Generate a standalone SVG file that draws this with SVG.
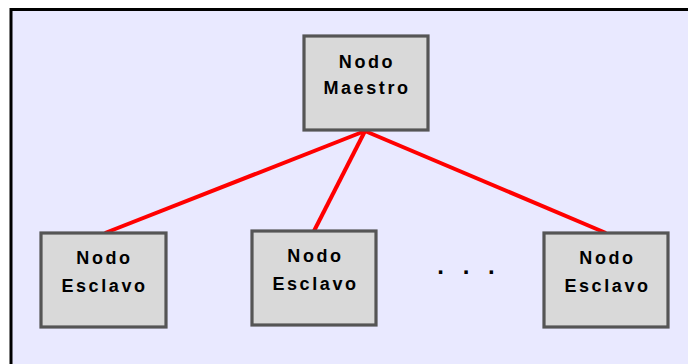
<svg xmlns="http://www.w3.org/2000/svg" width="688" height="364" viewBox="0 0 688 364">
<style>
.node rect{fill:#d9d9d9;stroke:#555555;stroke-width:3.2}
.lbl{font-family:"Liberation Sans",Arial,sans-serif;font-weight:bold;font-size:18px;letter-spacing:2.6px;fill:#000;text-anchor:middle}
.conn line{stroke:#ff0000;stroke-width:4}
</style>
<rect x="11" y="9.5" width="700" height="370" fill="#e9e9ff" stroke="#000" stroke-width="3"/>
<g class="conn" id="connectors">
<line x1="365" y1="131" x2="105" y2="233"/>
<line x1="365" y1="131" x2="314" y2="231"/>
<line x1="365" y1="131" x2="606" y2="233"/>
</g>
<g class="node" id="maestro">
<rect x="304" y="36" width="124" height="94"/>
<text class="lbl" x="367" y="68">Nodo</text>
<text class="lbl" x="367" y="94">Maestro</text>
</g>
<g class="node" id="esclavo1">
<rect x="41" y="233" width="125" height="94"/>
<text class="lbl" x="104.5" y="264">Nodo</text>
<text class="lbl" x="104.5" y="292">Esclavo</text>
</g>
<g class="node" id="esclavo2">
<rect x="252" y="231" width="124" height="94"/>
<text class="lbl" x="315.5" y="262">Nodo</text>
<text class="lbl" x="315.5" y="290">Esclavo</text>
</g>
<g class="node" id="esclavo3">
<rect x="544" y="233" width="124" height="94"/>
<text class="lbl" x="607.5" y="264">Nodo</text>
<text class="lbl" x="607.5" y="292">Esclavo</text>
</g>
<text class="lbl" x="469" y="274" style="font-size:24px;letter-spacing:6px">. . .</text>
</svg>
